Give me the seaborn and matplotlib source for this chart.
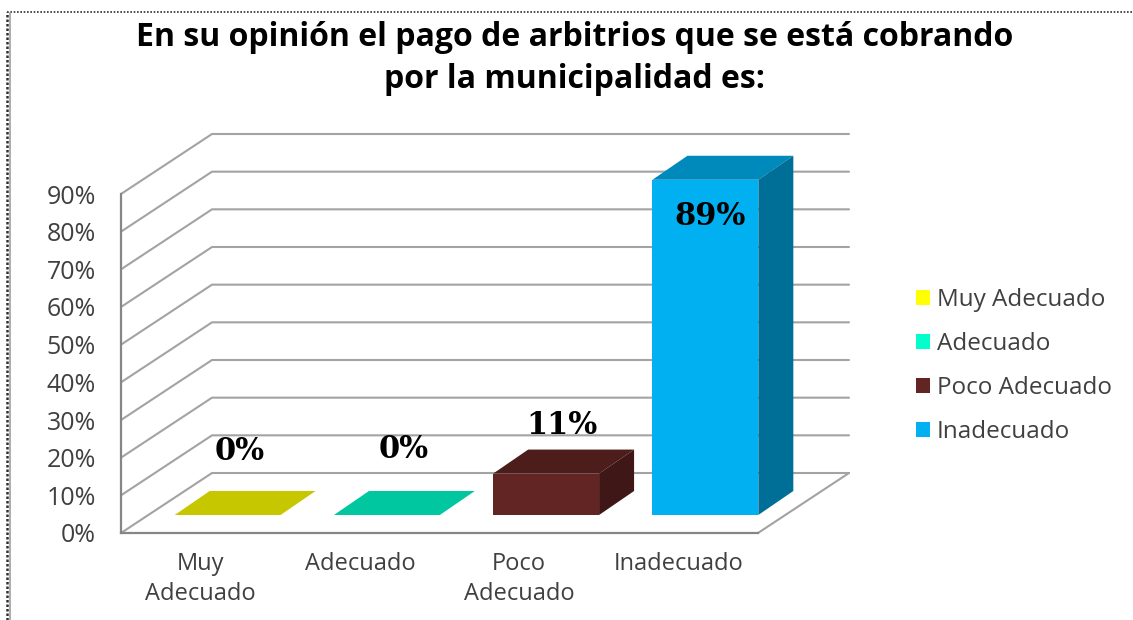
import matplotlib
matplotlib.use('Agg')
import matplotlib.pyplot as plt
import pandas as pd
import seaborn as sns
from matplotlib.colors import to_rgb
from matplotlib.lines import Line2D
from matplotlib.patches import Polygon

categorias = ['Muy Adecuado', 'Adecuado', 'Poco Adecuado', 'Inadecuado']
valores = [0, 0, 11, 89]
etiquetas_x = ['Muy\nAdecuado', 'Adecuado', 'Poco\nAdecuado', 'Inadecuado']
ticks_y = [0, 10, 20, 30, 40, 50, 60, 70, 80, 90]
colores = ['#FFFF00', '#00FFCC', '#632523', '#00B0F0']
titulo = 'En su opinión el pago de arbitrios que se está cobrando\npor la municipalidad es:'

W, H = 1133, 620
sns.set_theme(style='white')
plt.rcParams['font.family'] = ['Open Sans', 'DejaVu Sans']

df = pd.DataFrame({'categoria': categorias, 'valor': valores})
fig = plt.figure(figsize=(W / 100, H / 100), dpi=100)


def caja(x0, y0, x1, y1):
    return [x0 / W, 1 - y0 / H, (x1 - x0) / W, (y0 - y1) / H]


# front plane: axis, ticks and walls
ax = fig.add_axes(caja(121, 533, 758, 194))
ax.set_xlim(-0.5, 3.5)
ax.set_ylim(0, 90)
ax.set_xticks(range(4), etiquetas_x)
ax.set_yticks(ticks_y, [f'{v}%' for v in ticks_y])
ax.tick_params(axis='y', labelsize=18, pad=18, length=0, labelcolor='#404040')
ax.tick_params(axis='x', labelsize=17, pad=14, length=0, labelcolor='#404040')
for lab in ax.get_xticklabels():
    lab.set_linespacing(1.32)
for s in ['top', 'right']:
    ax.spines[s].set_visible(False)
for s in ['left', 'bottom']:
    ax.spines[s].set_color('#868686')
    ax.spines[s].set_linewidth(1.6)

# depth of the back wall, in data units (91 px, 60 px)
fondo_x = 91 / (637 / 4)
fondo_y = 60 / (339 / 90)
gris = '#A3A3A3'
for v in ticks_y:
    ax.plot([-0.5, -0.5 + fondo_x, 3.5 + fondo_x], [v, v + fondo_y, v + fondo_y],
            color=gris, lw=1.5, clip_on=False, zorder=1)
ax.plot([3.5, 3.5 + fondo_x], [0, fondo_y], color=gris, lw=1.5, clip_on=False, zorder=1)

# bars sit a bit inside the floor
ax2 = fig.add_axes(caja(148, 515, 785, 176))
ax2.patch.set_alpha(0)
sns.barplot(data=df, x='categoria', y='valor', hue='categoria', palette=colores,
            dodge=False, width=0.665, legend=False, saturation=1, linewidth=0, ax=ax2)
ax2.set_xlim(-0.5, 3.5)
ax2.set_ylim(0, 90)
ax2.axis('off')

prof_x = 35 / (637 / 4)
prof_y = 24 / (339 / 90)


def sombra(c, f):
    return tuple(v * f for v in to_rgb(c))


for cont, color in zip(ax2.containers, colores):
    b = cont[0]
    x0, x1 = b.get_x(), b.get_x() + b.get_width()
    h = b.get_height()
    ax2.add_patch(Polygon([(x0, h), (x1, h), (x1 + prof_x, h + prof_y), (x0 + prof_x, h + prof_y)],
                          fc=sombra(color, 0.78), ec='none', clip_on=False, zorder=3))
    if h > 0:
        ax2.add_patch(Polygon([(x1, 0), (x1 + prof_x, prof_y), (x1 + prof_x, h + prof_y), (x1, h)],
                              fc=sombra(color, 0.63), ec='none', clip_on=False, zorder=3))

desplaza = [(12, 63), (17, 65), (16, 48), (5, -37)]
for i, v in enumerate(valores):
    ax2.annotate(f'{v}%', (i, v), xytext=desplaza[i], textcoords='offset pixels',
                 ha='center', va='center', family='DejaVu Serif', weight='bold',
                 fontsize=22, color='black', zorder=5, annotation_clip=False)

manejadores = [cont[0] for cont in ax2.containers]
fig.legend(manejadores, categorias, loc='center left', bbox_to_anchor=(894 / W, 1 - 366 / H),
           frameon=False, fontsize=17.5, handlelength=0.58, handleheight=0.58,
           handletextpad=0.29, labelspacing=0.82, labelcolor='#404040')

fig.text(575 / W, 1 - 58 / H, titulo, ha='center', va='center', ma='center',
         fontsize=23, weight='bold', color='black', linespacing=1.36)

# dotted frame of the screenshot
fig.add_artist(Line2D([7 / W, 1], [1 - 12 / H, 1 - 12 / H], color='#303030', lw=1.2, ls=(0, (1, 1))))
fig.add_artist(Line2D([7 / W, 7 / W], [0, 1 - 12 / H], color='#303030', lw=1.8, ls=(0, (1, 0.8))))
fig.add_artist(Line2D([9.5 / W, 9.5 / W], [0, 1 - 13 / H], color='#A0A0A0', lw=1.2))

fig.savefig('out.png', dpi=100)
